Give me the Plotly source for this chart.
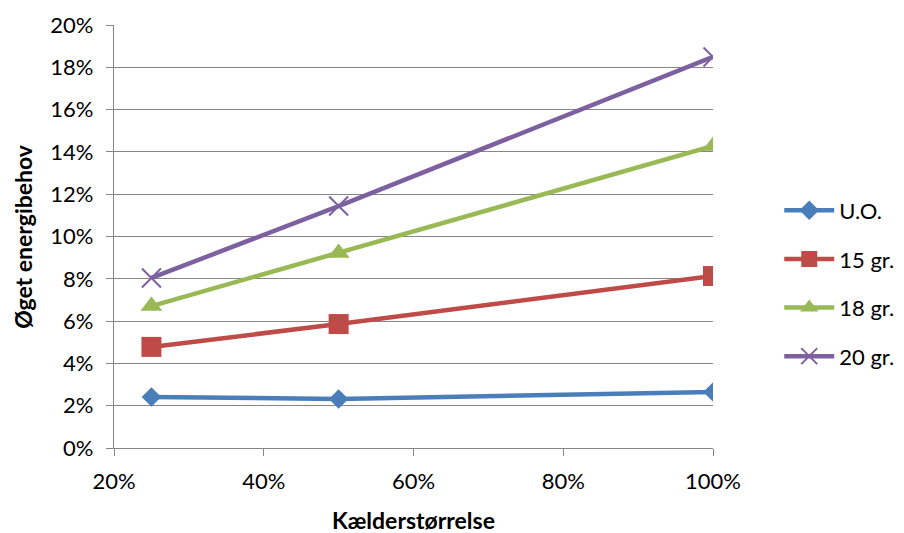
import plotly.graph_objects as go

# Basement size (share, %) and increased energy demand (%) per temperature setting
kaelder = [25, 50, 100]
serie_navne = ["U.O.", "15 gr.", "18 gr.", "20 gr."]
uo = [2.41, 2.32, 2.65]
gr15 = [4.78, 5.86, 8.13]
gr18 = [6.71, 9.22, 14.28]
gr20 = [8.04, 11.44, 18.49]

x_ticks = [20, 40, 60, 80, 100]
x_labels = ["20%", "40%", "60%", "80%", "100%"]
y_ticks = [0, 2, 4, 6, 8, 10, 12, 14, 16, 18, 20]
y_labels = ["0%", "2%", "4%", "6%", "8%", "10%", "12%", "14%", "16%", "18%", "20%"]

styles = [
    dict(color="#4A7EBB", symbol="diamond", size=15, mline=0),
    dict(color="#BE4B48", symbol="square", size=20, mline=0),
    dict(color="#98B954", symbol="triangle-up", size=19, mline=0),
    dict(color="#7D60A0", symbol="x-thin", size=19, mline=2),
]

FONT = "Lato, Carlito, Calibri, sans-serif"

fig = go.Figure()
for name, vals, st in zip(serie_navne, [uo, gr15, gr18, gr20], styles):
    fig.add_trace(go.Scatter(
        x=kaelder, y=vals, name=name, legendgroup=name,
        mode="lines+markers",
        line=dict(color=st["color"], width=4.5),
        marker=dict(symbol=st["symbol"], size=st["size"], color=st["color"],
                    line=dict(color=st["color"], width=st["mline"])),
    ))

axis_font = dict(family=FONT, size=22, color="#000000")
title_font = dict(family=FONT, size=23, color="#000000")

fig.update_layout(
    width=904, height=533,
    margin=dict(l=114, r=191, t=25, b=85),
    paper_bgcolor="white", plot_bgcolor="white",
    font=axis_font,
    showlegend=True,
    legend=dict(
        xref="container", yref="container",
        x=0.862, y=0.468, xanchor="left", yanchor="middle",
        font=dict(family=FONT, size=22, color="#000000"),
        tracegroupgap=17, traceorder="grouped", itemwidth=50,
        bgcolor="rgba(0,0,0,0)",
    ),
    xaxis=dict(
        range=[20, 100], tickmode="array", tickvals=x_ticks, ticktext=x_labels,
        showgrid=False, zeroline=False, automargin=False,
        showline=True, linecolor="#868686", linewidth=1.3,
        ticks="outside", ticklen=7, tickcolor="#868686", tickwidth=1.3,
        ticklabelstandoff=6,
        tickfont=axis_font,
    ),
    yaxis=dict(
        range=[0, 20], tickmode="array", tickvals=y_ticks, ticktext=y_labels,
        showgrid=True, gridcolor="#868686", gridwidth=1.3,
        zeroline=False, automargin=False,
        showline=True, linecolor="#868686", linewidth=1.3,
        ticks="outside", ticklen=7, tickcolor="#868686", tickwidth=1.3,
        ticklabelstandoff=8,
        tickfont=axis_font,
    ),
    annotations=[
        dict(text="<b>Kælderstørrelse</b>", xref="paper", yref="paper",
             x=0.5, y=-0.17, xanchor="center", yanchor="middle",
             showarrow=False, font=title_font),
        dict(text="<b>Øget energibehov</b>", xref="paper", yref="paper",
             x=-0.153, y=0.5, xanchor="center", yanchor="middle", textangle=-90,
             showarrow=False, font=title_font),
    ],
)

fig.write_html("out.html")
